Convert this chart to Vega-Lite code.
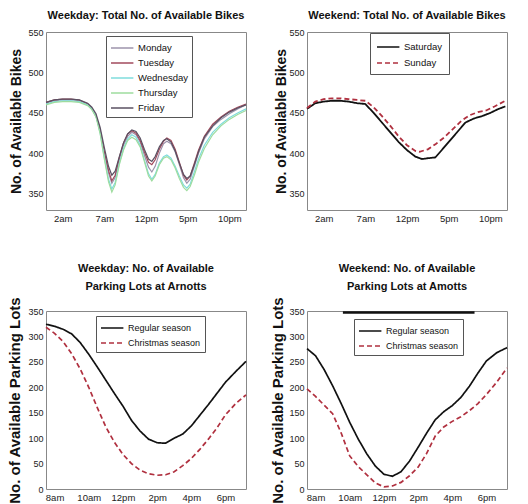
{
  "$schema": "https://vega.github.io/schema/vega-lite/v6.json",
  "autosize": {"type": "pad"},
  "padding": {"left": 7, "top": 9, "right": 5, "bottom": 0},
  "background": "white",
  "bounds": "flush",
  "columns": 2,
  "spacing": {"row": 101, "column": 61},
  "config": {
    "view": {"stroke": "#888", "strokeWidth": 1},
    "axis": {"domain": false, "grid": false, "ticks": false, "labelOverlap": false, "labelFlush": false, "labelFont": "Liberation Sans", "labelFontSize": 9.5, "labelColor": "#222", "labelPadding": 3, "titleFont": "Liberation Sans", "titleFontSize": 14, "titleFontWeight": "bold", "titleColor": "#111"},
    "axisY": {"labelFontSize": 9},
    "title": {"font": "Liberation Sans", "fontSize": 11, "fontWeight": "bold", "color": "#111", "offset": 7, "lineHeight": 18},
    "legend": {"strokeColor": "#555", "fillColor": "white", "padding": 4, "labelFont": "Liberation Sans", "labelFontSize": 10, "labelColor": "#111", "labelOffset": 12, "rowPadding": 2, "symbolSize": 196, "symbolStrokeWidth": 1.5, "cornerRadius": 0}
  },
  "resolve": {"scale": {"color": "independent", "strokeDash": "independent", "x": "independent", "y": "independent"}},
  "datasets": {
    "wdBikes": [
      {"h":0,"v":462,"d":"Monday"},{"h":1,"v":465,"d":"Monday"},{"h":2,"v":466,"d":"Monday"},{"h":3,"v":466,"d":"Monday"},{"h":4,"v":465,"d":"Monday"},{"h":5,"v":461,"d":"Monday"},{"h":5.5,"v":456,"d":"Monday"},{"h":6,"v":447,"d":"Monday"},{"h":6.5,"v":428,"d":"Monday"},{"h":7,"v":400,"d":"Monday"},{"h":7.5,"v":376,"d":"Monday"},{"h":7.9,"v":363,"d":"Monday"},{"h":8.3,"v":370,"d":"Monday"},{"h":8.8,"v":392,"d":"Monday"},{"h":9.3,"v":410,"d":"Monday"},{"h":9.8,"v":421,"d":"Monday"},{"h":10.3,"v":426,"d":"Monday"},{"h":10.8,"v":423,"d":"Monday"},{"h":11.3,"v":414,"d":"Monday"},{"h":11.8,"v":398,"d":"Monday"},{"h":12.3,"v":383,"d":"Monday"},{"h":12.7,"v":377,"d":"Monday"},{"h":13.1,"v":384,"d":"Monday"},{"h":13.6,"v":400,"d":"Monday"},{"h":14.1,"v":412,"d":"Monday"},{"h":14.5,"v":415,"d":"Monday"},{"h":15,"v":412,"d":"Monday"},{"h":15.5,"v":402,"d":"Monday"},{"h":16,"v":386,"d":"Monday"},{"h":16.5,"v":370,"d":"Monday"},{"h":16.9,"v":363,"d":"Monday"},{"h":17.3,"v":368,"d":"Monday"},{"h":17.8,"v":384,"d":"Monday"},{"h":18.3,"v":400,"d":"Monday"},{"h":19,"v":418,"d":"Monday"},{"h":20,"v":433,"d":"Monday"},{"h":21,"v":442,"d":"Monday"},{"h":22,"v":449,"d":"Monday"},{"h":23,"v":455,"d":"Monday"},{"h":24,"v":460,"d":"Monday"},
      {"h":0,"v":463,"d":"Tuesday"},{"h":1,"v":466,"d":"Tuesday"},{"h":2,"v":467,"d":"Tuesday"},{"h":3,"v":467,"d":"Tuesday"},{"h":4,"v":466,"d":"Tuesday"},{"h":5,"v":461,"d":"Tuesday"},{"h":5.5,"v":455,"d":"Tuesday"},{"h":6,"v":446,"d":"Tuesday"},{"h":6.5,"v":428,"d":"Tuesday"},{"h":7,"v":402,"d":"Tuesday"},{"h":7.5,"v":379,"d":"Tuesday"},{"h":7.9,"v":366,"d":"Tuesday"},{"h":8.3,"v":373,"d":"Tuesday"},{"h":8.8,"v":395,"d":"Tuesday"},{"h":9.3,"v":413,"d":"Tuesday"},{"h":9.8,"v":424,"d":"Tuesday"},{"h":10.3,"v":428,"d":"Tuesday"},{"h":10.8,"v":425,"d":"Tuesday"},{"h":11.3,"v":416,"d":"Tuesday"},{"h":11.8,"v":402,"d":"Tuesday"},{"h":12.3,"v":389,"d":"Tuesday"},{"h":12.7,"v":386,"d":"Tuesday"},{"h":13.1,"v":392,"d":"Tuesday"},{"h":13.6,"v":405,"d":"Tuesday"},{"h":14.1,"v":415,"d":"Tuesday"},{"h":14.5,"v":419,"d":"Tuesday"},{"h":15,"v":416,"d":"Tuesday"},{"h":15.5,"v":405,"d":"Tuesday"},{"h":16,"v":389,"d":"Tuesday"},{"h":16.5,"v":373,"d":"Tuesday"},{"h":16.9,"v":367,"d":"Tuesday"},{"h":17.3,"v":372,"d":"Tuesday"},{"h":17.8,"v":388,"d":"Tuesday"},{"h":18.3,"v":404,"d":"Tuesday"},{"h":19,"v":421,"d":"Tuesday"},{"h":20,"v":436,"d":"Tuesday"},{"h":21,"v":445,"d":"Tuesday"},{"h":22,"v":452,"d":"Tuesday"},{"h":23,"v":457,"d":"Tuesday"},{"h":24,"v":461,"d":"Tuesday"},
      {"h":0,"v":461,"d":"Wednesday"},{"h":1,"v":464,"d":"Wednesday"},{"h":2,"v":465,"d":"Wednesday"},{"h":3,"v":465,"d":"Wednesday"},{"h":4,"v":464,"d":"Wednesday"},{"h":5,"v":460,"d":"Wednesday"},{"h":5.5,"v":455,"d":"Wednesday"},{"h":6,"v":446,"d":"Wednesday"},{"h":6.5,"v":425,"d":"Wednesday"},{"h":7,"v":395,"d":"Wednesday"},{"h":7.5,"v":368,"d":"Wednesday"},{"h":7.9,"v":356,"d":"Wednesday"},{"h":8.3,"v":364,"d":"Wednesday"},{"h":8.8,"v":388,"d":"Wednesday"},{"h":9.3,"v":406,"d":"Wednesday"},{"h":9.8,"v":418,"d":"Wednesday"},{"h":10.3,"v":423,"d":"Wednesday"},{"h":10.8,"v":420,"d":"Wednesday"},{"h":11.3,"v":410,"d":"Wednesday"},{"h":11.8,"v":392,"d":"Wednesday"},{"h":12.3,"v":375,"d":"Wednesday"},{"h":12.7,"v":368,"d":"Wednesday"},{"h":13.1,"v":374,"d":"Wednesday"},{"h":13.6,"v":388,"d":"Wednesday"},{"h":14.1,"v":396,"d":"Wednesday"},{"h":14.5,"v":398,"d":"Wednesday"},{"h":15,"v":394,"d":"Wednesday"},{"h":15.5,"v":384,"d":"Wednesday"},{"h":16,"v":372,"d":"Wednesday"},{"h":16.5,"v":361,"d":"Wednesday"},{"h":16.9,"v":357,"d":"Wednesday"},{"h":17.3,"v":362,"d":"Wednesday"},{"h":17.8,"v":377,"d":"Wednesday"},{"h":18.3,"v":393,"d":"Wednesday"},{"h":19,"v":410,"d":"Wednesday"},{"h":20,"v":426,"d":"Wednesday"},{"h":21,"v":436,"d":"Wednesday"},{"h":22,"v":444,"d":"Wednesday"},{"h":23,"v":450,"d":"Wednesday"},{"h":24,"v":455,"d":"Wednesday"},
      {"h":0,"v":460,"d":"Thursday"},{"h":1,"v":463,"d":"Thursday"},{"h":2,"v":464,"d":"Thursday"},{"h":3,"v":464,"d":"Thursday"},{"h":4,"v":463,"d":"Thursday"},{"h":5,"v":459,"d":"Thursday"},{"h":5.5,"v":454,"d":"Thursday"},{"h":6,"v":445,"d":"Thursday"},{"h":6.5,"v":424,"d":"Thursday"},{"h":7,"v":393,"d":"Thursday"},{"h":7.5,"v":365,"d":"Thursday"},{"h":7.9,"v":352,"d":"Thursday"},{"h":8.3,"v":361,"d":"Thursday"},{"h":8.8,"v":386,"d":"Thursday"},{"h":9.3,"v":404,"d":"Thursday"},{"h":9.8,"v":416,"d":"Thursday"},{"h":10.3,"v":420,"d":"Thursday"},{"h":10.8,"v":417,"d":"Thursday"},{"h":11.3,"v":408,"d":"Thursday"},{"h":11.8,"v":390,"d":"Thursday"},{"h":12.3,"v":372,"d":"Thursday"},{"h":12.7,"v":366,"d":"Thursday"},{"h":13.1,"v":372,"d":"Thursday"},{"h":13.6,"v":386,"d":"Thursday"},{"h":14.1,"v":394,"d":"Thursday"},{"h":14.5,"v":396,"d":"Thursday"},{"h":15,"v":392,"d":"Thursday"},{"h":15.5,"v":382,"d":"Thursday"},{"h":16,"v":369,"d":"Thursday"},{"h":16.5,"v":358,"d":"Thursday"},{"h":16.9,"v":354,"d":"Thursday"},{"h":17.3,"v":359,"d":"Thursday"},{"h":17.8,"v":373,"d":"Thursday"},{"h":18.3,"v":389,"d":"Thursday"},{"h":19,"v":406,"d":"Thursday"},{"h":20,"v":423,"d":"Thursday"},{"h":21,"v":434,"d":"Thursday"},{"h":22,"v":442,"d":"Thursday"},{"h":23,"v":448,"d":"Thursday"},{"h":24,"v":453,"d":"Thursday"},
      {"h":0,"v":463,"d":"Friday"},{"h":1,"v":466,"d":"Friday"},{"h":2,"v":467,"d":"Friday"},{"h":3,"v":467,"d":"Friday"},{"h":4,"v":466,"d":"Friday"},{"h":5,"v":462,"d":"Friday"},{"h":5.5,"v":457,"d":"Friday"},{"h":6,"v":449,"d":"Friday"},{"h":6.5,"v":432,"d":"Friday"},{"h":7,"v":407,"d":"Friday"},{"h":7.5,"v":384,"d":"Friday"},{"h":7.9,"v":373,"d":"Friday"},{"h":8.3,"v":378,"d":"Friday"},{"h":8.8,"v":396,"d":"Friday"},{"h":9.3,"v":413,"d":"Friday"},{"h":9.8,"v":424,"d":"Friday"},{"h":10.3,"v":429,"d":"Friday"},{"h":10.8,"v":427,"d":"Friday"},{"h":11.3,"v":419,"d":"Friday"},{"h":11.8,"v":405,"d":"Friday"},{"h":12.3,"v":393,"d":"Friday"},{"h":12.7,"v":390,"d":"Friday"},{"h":13.1,"v":396,"d":"Friday"},{"h":13.6,"v":408,"d":"Friday"},{"h":14.1,"v":416,"d":"Friday"},{"h":14.5,"v":418,"d":"Friday"},{"h":15,"v":414,"d":"Friday"},{"h":15.5,"v":403,"d":"Friday"},{"h":16,"v":388,"d":"Friday"},{"h":16.5,"v":374,"d":"Friday"},{"h":16.9,"v":369,"d":"Friday"},{"h":17.3,"v":372,"d":"Friday"},{"h":17.8,"v":386,"d":"Friday"},{"h":18.3,"v":402,"d":"Friday"},{"h":19,"v":420,"d":"Friday"},{"h":20,"v":434,"d":"Friday"},{"h":21,"v":444,"d":"Friday"},{"h":22,"v":451,"d":"Friday"},{"h":23,"v":456,"d":"Friday"},{"h":24,"v":460,"d":"Friday"}
    ],
    "weBikes": [
      {"h":0,"v":455,"s":"Saturday"},{"h":1,"v":462,"s":"Saturday"},{"h":2,"v":464,"s":"Saturday"},{"h":3,"v":465,"s":"Saturday"},{"h":4,"v":465,"s":"Saturday"},{"h":5,"v":464,"s":"Saturday"},{"h":6,"v":462,"s":"Saturday"},{"h":7,"v":461,"s":"Saturday"},{"h":8,"v":450,"s":"Saturday"},{"h":9,"v":438,"s":"Saturday"},{"h":10,"v":426,"s":"Saturday"},{"h":11,"v":414,"s":"Saturday"},{"h":12,"v":404,"s":"Saturday"},{"h":13,"v":396,"s":"Saturday"},{"h":13.8,"v":393,"s":"Saturday"},{"h":14.5,"v":394,"s":"Saturday"},{"h":15.4,"v":395,"s":"Saturday"},{"h":16,"v":402,"s":"Saturday"},{"h":17,"v":414,"s":"Saturday"},{"h":18,"v":426,"s":"Saturday"},{"h":19,"v":438,"s":"Saturday"},{"h":20,"v":443,"s":"Saturday"},{"h":21,"v":446,"s":"Saturday"},{"h":22,"v":450,"s":"Saturday"},{"h":23,"v":455,"s":"Saturday"},{"h":23.8,"v":458,"s":"Saturday"},
      {"h":0,"v":456,"s":"Sunday"},{"h":1,"v":464,"s":"Sunday"},{"h":2,"v":467,"s":"Sunday"},{"h":3,"v":468,"s":"Sunday"},{"h":4,"v":468,"s":"Sunday"},{"h":5,"v":467,"s":"Sunday"},{"h":6,"v":466,"s":"Sunday"},{"h":7,"v":465,"s":"Sunday"},{"h":8,"v":457,"s":"Sunday"},{"h":9,"v":446,"s":"Sunday"},{"h":10,"v":434,"s":"Sunday"},{"h":11,"v":421,"s":"Sunday"},{"h":12,"v":410,"s":"Sunday"},{"h":13,"v":403,"s":"Sunday"},{"h":13.5,"v":402,"s":"Sunday"},{"h":14.5,"v":405,"s":"Sunday"},{"h":15.5,"v":412,"s":"Sunday"},{"h":16.5,"v":420,"s":"Sunday"},{"h":17.5,"v":430,"s":"Sunday"},{"h":18.5,"v":440,"s":"Sunday"},{"h":19.5,"v":447,"s":"Sunday"},{"h":20.5,"v":451,"s":"Sunday"},{"h":21.5,"v":453,"s":"Sunday"},{"h":22.5,"v":458,"s":"Sunday"},{"h":23.8,"v":465,"s":"Sunday"}
    ],
    "wdPark": [
      {"h":7.5,"v":324,"s":"Regular season"},{"h":8,"v":320,"s":"Regular season"},{"h":8.5,"v":314,"s":"Regular season"},{"h":9,"v":305,"s":"Regular season"},{"h":9.5,"v":288,"s":"Regular season"},{"h":10,"v":265,"s":"Regular season"},{"h":10.5,"v":240,"s":"Regular season"},{"h":11,"v":214,"s":"Regular season"},{"h":11.5,"v":188,"s":"Regular season"},{"h":12,"v":163,"s":"Regular season"},{"h":12.5,"v":135,"s":"Regular season"},{"h":13,"v":114,"s":"Regular season"},{"h":13.5,"v":98,"s":"Regular season"},{"h":14,"v":91,"s":"Regular season"},{"h":14.5,"v":90,"s":"Regular season"},{"h":15,"v":100,"s":"Regular season"},{"h":15.5,"v":108,"s":"Regular season"},{"h":16,"v":124,"s":"Regular season"},{"h":16.5,"v":145,"s":"Regular season"},{"h":17,"v":166,"s":"Regular season"},{"h":17.5,"v":188,"s":"Regular season"},{"h":18,"v":210,"s":"Regular season"},{"h":18.6,"v":231,"s":"Regular season"},{"h":19.2,"v":251,"s":"Regular season"},
      {"h":7.5,"v":318,"s":"Christmas season"},{"h":8,"v":306,"s":"Christmas season"},{"h":8.5,"v":290,"s":"Christmas season"},{"h":9,"v":266,"s":"Christmas season"},{"h":9.5,"v":236,"s":"Christmas season"},{"h":10,"v":200,"s":"Christmas season"},{"h":10.5,"v":160,"s":"Christmas season"},{"h":11,"v":122,"s":"Christmas season"},{"h":11.5,"v":92,"s":"Christmas season"},{"h":12,"v":68,"s":"Christmas season"},{"h":12.5,"v":50,"s":"Christmas season"},{"h":13,"v":37,"s":"Christmas season"},{"h":13.5,"v":30,"s":"Christmas season"},{"h":14,"v":27,"s":"Christmas season"},{"h":14.5,"v":28,"s":"Christmas season"},{"h":15,"v":34,"s":"Christmas season"},{"h":15.5,"v":46,"s":"Christmas season"},{"h":16,"v":60,"s":"Christmas season"},{"h":16.5,"v":78,"s":"Christmas season"},{"h":17,"v":98,"s":"Christmas season"},{"h":17.5,"v":120,"s":"Christmas season"},{"h":18,"v":146,"s":"Christmas season"},{"h":18.6,"v":168,"s":"Christmas season"},{"h":19.2,"v":185,"s":"Christmas season"}
    ],
    "wePark": [
      {"h":7.5,"v":276,"s":"Regular season"},{"h":8,"v":262,"s":"Regular season"},{"h":8.5,"v":235,"s":"Regular season"},{"h":9,"v":203,"s":"Regular season"},{"h":9.5,"v":168,"s":"Regular season"},{"h":10,"v":131,"s":"Regular season"},{"h":10.5,"v":98,"s":"Regular season"},{"h":11,"v":69,"s":"Regular season"},{"h":11.5,"v":45,"s":"Regular season"},{"h":12,"v":29,"s":"Regular season"},{"h":12.5,"v":25,"s":"Regular season"},{"h":13,"v":34,"s":"Regular season"},{"h":13.5,"v":55,"s":"Regular season"},{"h":14,"v":82,"s":"Regular season"},{"h":14.5,"v":110,"s":"Regular season"},{"h":15,"v":136,"s":"Regular season"},{"h":15.5,"v":152,"s":"Regular season"},{"h":16,"v":164,"s":"Regular season"},{"h":16.5,"v":180,"s":"Regular season"},{"h":17,"v":202,"s":"Regular season"},{"h":17.5,"v":228,"s":"Regular season"},{"h":18,"v":252,"s":"Regular season"},{"h":18.6,"v":268,"s":"Regular season"},{"h":19.2,"v":278,"s":"Regular season"},
      {"h":7.5,"v":197,"s":"Christmas season"},{"h":8,"v":182,"s":"Christmas season"},{"h":8.5,"v":165,"s":"Christmas season"},{"h":9,"v":148,"s":"Christmas season"},{"h":9.5,"v":110,"s":"Christmas season"},{"h":10,"v":65,"s":"Christmas season"},{"h":10.5,"v":44,"s":"Christmas season"},{"h":11,"v":28,"s":"Christmas season"},{"h":11.5,"v":12,"s":"Christmas season"},{"h":12,"v":4,"s":"Christmas season"},{"h":12.5,"v":6,"s":"Christmas season"},{"h":13,"v":13,"s":"Christmas season"},{"h":13.5,"v":26,"s":"Christmas season"},{"h":14,"v":43,"s":"Christmas season"},{"h":14.5,"v":70,"s":"Christmas season"},{"h":15,"v":104,"s":"Christmas season"},{"h":15.5,"v":122,"s":"Christmas season"},{"h":16,"v":133,"s":"Christmas season"},{"h":16.5,"v":142,"s":"Christmas season"},{"h":17,"v":154,"s":"Christmas season"},{"h":17.5,"v":168,"s":"Christmas season"},{"h":18,"v":186,"s":"Christmas season"},{"h":18.6,"v":210,"s":"Christmas season"},{"h":19.2,"v":238,"s":"Christmas season"}
    ],
    "annot": [{"h": 9.6, "h2": 17.3, "v": 347}]
  },
  "concat": [
    {
      "width": 200, "height": 178,
      "title": {"text": "Weekday: Total No. of Available Bikes"},
      "data": {"name": "wdBikes"},
      "mark": {"type": "line", "strokeWidth": 1.2},
      "encoding": {
        "x": {"field": "h", "type": "quantitative", "scale": {"domain": [0, 24], "nice": false}, "axis": {"title": null, "values": [2, 7, 12, 17, 22], "labelExpr": "datum.value<12?datum.value+'am':datum.value==12?'12pm':(datum.value-12)+'pm'"}},
        "y": {"field": "v", "type": "quantitative", "scale": {"domain": [330, 550], "nice": false, "zero": false}, "axis": {"title": "No. of Available Bikes", "values": [350, 400, 450, 500, 550], "titlePadding": 4}},
        "color": {"field": "d", "type": "nominal", "scale": {"domain": ["Monday", "Tuesday", "Wednesday", "Thursday", "Friday"], "range": ["#9c93ab", "#a24a5c", "#7fdcdc", "#9edc9e", "#5a5062"]}, "legend": {"title": null, "orient": "none", "legendX": 60, "legendY": 4, "symbolType": "M-1,0H2.2", "labelFontSize": 9.5}}
      }
    },
    {
      "width": 200, "height": 178,
      "title": {"text": "Weekend: Total No. of Available Bikes"},
      "data": {"name": "weBikes"},
      "mark": {"type": "line", "strokeWidth": 1.8},
      "encoding": {
        "x": {"field": "h", "type": "quantitative", "scale": {"domain": [0, 24], "nice": false}, "axis": {"title": null, "values": [2, 7, 12, 17, 22], "labelExpr": "datum.value<12?datum.value+'am':datum.value==12?'12pm':(datum.value-12)+'pm'"}},
        "y": {"field": "v", "type": "quantitative", "scale": {"domain": [330, 550], "nice": false, "zero": false}, "axis": {"title": "No. of Available Bikes", "values": [350, 400, 450, 500, 550], "titlePadding": 0}},
        "color": {"field": "s", "type": "nominal", "scale": {"domain": ["Saturday", "Sunday"], "range": ["#111111", "#b0303f"]}, "legend": {"title": null, "orient": "none", "legendX": 63, "legendY": 1, "symbolType": "M-1,0H2.2", "labelFontSize": 9.5, "padding": 6, "rowPadding": 3}},
        "strokeDash": {"field": "s", "type": "nominal", "scale": {"domain": ["Saturday", "Sunday"], "range": [[1, 0], [5, 3]]}, "legend": {"title": null, "orient": "none", "legendX": 63, "legendY": 1, "symbolType": "M-1,0H2.2", "labelFontSize": 9.5, "padding": 6, "rowPadding": 3}}
      }
    },
    {
      "width": 200, "height": 178,
      "title": {"text": ["Weekday: No. of Available", "Parking Lots at Arnotts"], "offset": 5},
      "data": {"name": "wdPark"},
      "mark": {"type": "line", "strokeWidth": 1.7},
      "encoding": {
        "x": {"field": "h", "type": "quantitative", "scale": {"domain": [7.5, 19.2], "nice": false, "zero": false}, "axis": {"title": null, "values": [8, 10, 12, 14, 16, 18], "labelExpr": "datum.value<12?datum.value+'am':datum.value==12?'12pm':(datum.value-12)+'pm'"}},
        "y": {"field": "v", "type": "quantitative", "scale": {"domain": [0, 350], "nice": false}, "axis": {"title": "No. of Available Parking Lots", "titleFontSize": 15, "values": [0, 50, 100, 150, 200, 250, 300, 350], "titlePadding": 5}},
        "color": {"field": "s", "type": "nominal", "scale": {"domain": ["Regular season", "Christmas season"], "range": ["#111111", "#b0303f"]}, "legend": {"title": null, "orient": "none", "legendX": 50, "legendY": 5, "symbolType": "M-1,0H2.2", "labelFontSize": 9}},
        "strokeDash": {"field": "s", "type": "nominal", "scale": {"domain": ["Regular season", "Christmas season"], "range": [[1, 0], [5, 3]]}, "legend": {"title": null, "orient": "none", "legendX": 50, "legendY": 5, "symbolType": "M-1,0H2.2", "labelFontSize": 9}}
      }
    },
    {
      "width": 200, "height": 178,
      "title": {"text": ["Weekend: No. of Available", "Parking Lots at Amotts"], "offset": 5},
      "encoding": {
        "x": {"field": "h", "type": "quantitative", "scale": {"domain": [7.5, 19.2], "nice": false, "zero": false}, "axis": {"title": null, "values": [8, 10, 12, 14, 16, 18], "labelExpr": "datum.value<12?datum.value+'am':datum.value==12?'12pm':(datum.value-12)+'pm'"}},
        "y": {"field": "v", "type": "quantitative", "scale": {"domain": [0, 350], "nice": false}, "axis": {"title": "No. of Available Parking Lots", "titleFontSize": 15, "values": [0, 50, 100, 150, 200, 250, 300, 350], "titlePadding": 3}}
      },
      "layer": [
        {
          "data": {"name": "wePark"},
          "mark": {"type": "line", "strokeWidth": 1.7},
          "encoding": {
            "color": {"field": "s", "type": "nominal", "scale": {"domain": ["Regular season", "Christmas season"], "range": ["#111111", "#b0303f"]}, "legend": {"title": null, "orient": "none", "legendX": 47, "legendY": 8, "symbolType": "M-1,0H2.2", "labelFontSize": 9}},
            "strokeDash": {"field": "s", "type": "nominal", "scale": {"domain": ["Regular season", "Christmas season"], "range": [[1, 0], [5, 3]]}, "legend": {"title": null, "orient": "none", "legendX": 47, "legendY": 8, "symbolType": "M-1,0H2.2", "labelFontSize": 9}}
          }
        },
        {
          "data": {"name": "annot"},
          "mark": {"type": "rule", "strokeWidth": 2.5, "color": "#111"},
          "encoding": {
            "x2": {"field": "h2"}
          }
        }
      ]
    }
  ]
}
